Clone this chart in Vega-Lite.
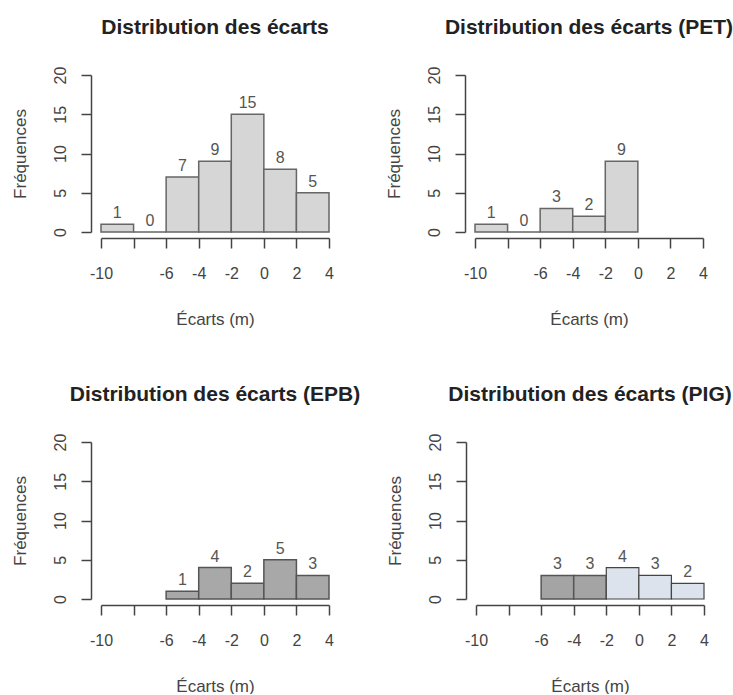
{
  "$schema": "https://vega.github.io/schema/vega-lite/v6.json",
  "padding": {"left": 11, "top": 17, "right": 0, "bottom": 0},
  "background": "white",
  "datasets": {
    "all": [
      {"lo": -10, "hi": -8, "mid": -9, "n": 1},
      {"lo": -8, "hi": -6, "mid": -7, "n": 0},
      {"lo": -6, "hi": -4, "mid": -5, "n": 7},
      {"lo": -4, "hi": -2, "mid": -3, "n": 9},
      {"lo": -2, "hi": 0, "mid": -1, "n": 15},
      {"lo": 0, "hi": 2, "mid": 1, "n": 8},
      {"lo": 2, "hi": 4, "mid": 3, "n": 5}
    ],
    "pet": [
      {"lo": -10, "hi": -8, "mid": -9, "n": 1},
      {"lo": -8, "hi": -6, "mid": -7, "n": 0},
      {"lo": -6, "hi": -4, "mid": -5, "n": 3},
      {"lo": -4, "hi": -2, "mid": -3, "n": 2},
      {"lo": -2, "hi": 0, "mid": -1, "n": 9}
    ],
    "epb": [
      {"lo": -6, "hi": -4, "mid": -5, "n": 1},
      {"lo": -4, "hi": -2, "mid": -3, "n": 4},
      {"lo": -2, "hi": 0, "mid": -1, "n": 2},
      {"lo": 0, "hi": 2, "mid": 1, "n": 5},
      {"lo": 2, "hi": 4, "mid": 3, "n": 3}
    ],
    "pig": [
      {"lo": -6, "hi": -4, "mid": -5, "n": 3},
      {"lo": -4, "hi": -2, "mid": -3, "n": 3},
      {"lo": -2, "hi": 0, "mid": -1, "n": 4},
      {"lo": 0, "hi": 2, "mid": 1, "n": 3},
      {"lo": 2, "hi": 4, "mid": 3, "n": 2}
    ]
  },
  "config": {
    "view": {"stroke": null},
    "font": "Liberation Sans",
    "title": {"fontSize": 21, "fontWeight": "bold", "color": "#222", "font": "Liberation Sans", "offset": 28, "frame": "group", "anchor": "middle"},
    "axis": {
      "grid": false,
      "domainColor": "#444", "tickColor": "#444", "domainWidth": 1.5, "tickWidth": 1.5,
      "labelColor": "#444", "titleColor": "#444",
      "labelFont": "Liberation Sans", "titleFont": "Liberation Sans",
      "labelFontSize": 16, "titleFontSize": 17, "titleFontWeight": "normal",
      "labelOverlap": false, "labelFlush": false
    },
    "axisX": {"offset": 6, "tickSize": 10, "labelPadding": 17, "titlePadding": 30},
    "axisY": {"offset": 10, "tickSize": 10, "labelAngle": -90, "labelAlign": "center", "labelBaseline": "bottom", "labelPadding": 13, "titlePadding": 23}
  },
  "vconcat": [
    {
      "hconcat": [
        {
          "width": 228, "height": 157,
          "title": "Distribution des écarts",
          "data": {"name": "all"},
          "layer": [
            {
              "mark": {"type": "bar", "fill": "#d6d6d6", "stroke": "#666", "strokeWidth": 1.5},
              "encoding": {
                "x": {"field": "lo", "type": "quantitative", "scale": {"domain": [-10, 4], "nice": false, "zero": false},
                  "axis": {"title": "Écarts (m)", "values": [-10, -8, -6, -4, -2, 0, 2, 4], "labelExpr": "datum.value == -8 ? '' : toString(datum.value)"}},
                "x2": {"field": "hi"},
                "y": {"field": "n", "type": "quantitative", "scale": {"domain": [0, 20], "nice": false},
                  "axis": {"title": "Fréquences", "values": [0, 5, 10, 15, 20]}},
                "y2": {"datum": 0}
              }
            },
            {
              "mark": {"type": "text", "dy": -11, "fontSize": 16, "color": "#555"},
              "encoding": {
                "x": {"field": "mid", "type": "quantitative",
                  "axis": {"title": "Écarts (m)", "values": [-10, -8, -6, -4, -2, 0, 2, 4], "labelExpr": "datum.value == -8 ? '' : toString(datum.value)"}},
                "y": {"field": "n", "type": "quantitative",
                  "axis": {"title": "Fréquences", "values": [0, 5, 10, 15, 20]}},
                "text": {"field": "n", "type": "quantitative"}
              }
            }
          ]
        },
        {
          "width": 228, "height": 157,
          "title": "Distribution des écarts (PET)",
          "data": {"name": "pet"},
          "layer": [
            {
              "mark": {"type": "bar", "fill": "#d6d6d6", "stroke": "#666", "strokeWidth": 1.5},
              "encoding": {
                "x": {"field": "lo", "type": "quantitative", "scale": {"domain": [-10, 4], "nice": false, "zero": false},
                  "axis": {"title": "Écarts (m)", "values": [-10, -8, -6, -4, -2, 0, 2, 4], "labelExpr": "datum.value == -8 ? '' : toString(datum.value)"}},
                "x2": {"field": "hi"},
                "y": {"field": "n", "type": "quantitative", "scale": {"domain": [0, 20], "nice": false},
                  "axis": {"title": "Fréquences", "values": [0, 5, 10, 15, 20]}},
                "y2": {"datum": 0}
              }
            },
            {
              "mark": {"type": "text", "dy": -11, "fontSize": 16, "color": "#555"},
              "encoding": {
                "x": {"field": "mid", "type": "quantitative",
                  "axis": {"title": "Écarts (m)", "values": [-10, -8, -6, -4, -2, 0, 2, 4], "labelExpr": "datum.value == -8 ? '' : toString(datum.value)"}},
                "y": {"field": "n", "type": "quantitative",
                  "axis": {"title": "Fréquences", "values": [0, 5, 10, 15, 20]}},
                "text": {"field": "n", "type": "quantitative"}
              }
            }
          ]
        }
      ],
      "spacing": 51
    },
    {
      "hconcat": [
        {
          "width": 228, "height": 157,
          "title": "Distribution des écarts (EPB)",
          "data": {"name": "epb"},
          "layer": [
            {
              "mark": {"type": "bar", "fill": "#a8a8a8", "stroke": "#555", "strokeWidth": 1.5},
              "encoding": {
                "x": {"field": "lo", "type": "quantitative", "scale": {"domain": [-10, 4], "nice": false, "zero": false},
                  "axis": {"title": "Écarts (m)", "values": [-10, -8, -6, -4, -2, 0, 2, 4], "labelExpr": "datum.value == -8 ? '' : toString(datum.value)"}},
                "x2": {"field": "hi"},
                "y": {"field": "n", "type": "quantitative", "scale": {"domain": [0, 20], "nice": false},
                  "axis": {"title": "Fréquences", "values": [0, 5, 10, 15, 20]}},
                "y2": {"datum": 0}
              }
            },
            {
              "mark": {"type": "text", "dy": -11, "fontSize": 16, "color": "#555"},
              "encoding": {
                "x": {"field": "mid", "type": "quantitative",
                  "axis": {"title": "Écarts (m)", "values": [-10, -8, -6, -4, -2, 0, 2, 4], "labelExpr": "datum.value == -8 ? '' : toString(datum.value)"}},
                "y": {"field": "n", "type": "quantitative",
                  "axis": {"title": "Fréquences", "values": [0, 5, 10, 15, 20]}},
                "text": {"field": "n", "type": "quantitative"}
              }
            }
          ]
        },
        {
          "width": 228, "height": 157,
          "title": "Distribution des écarts (PIG)",
          "data": {"name": "pig"},
          "layer": [
            {
              "transform": [{"filter": "datum.lo < -2"}],
              "mark": {"type": "bar", "fill": "#a4a4a4", "stroke": "#555", "strokeWidth": 1.5},
              "encoding": {
                "x": {"field": "lo", "type": "quantitative", "scale": {"domain": [-10, 4], "nice": false, "zero": false},
                  "axis": {"title": "Écarts (m)", "values": [-10, -8, -6, -4, -2, 0, 2, 4], "labelExpr": "datum.value == -8 ? '' : toString(datum.value)"}},
                "x2": {"field": "hi"},
                "y": {"field": "n", "type": "quantitative", "scale": {"domain": [0, 20], "nice": false},
                  "axis": {"title": "Fréquences", "values": [0, 5, 10, 15, 20]}},
                "y2": {"datum": 0}
              }
            },
            {
              "transform": [{"filter": "datum.lo >= -2"}],
              "mark": {"type": "bar", "fill": "#dde3ec", "stroke": "#444", "strokeWidth": 1.2},
              "encoding": {
                "x": {"field": "lo", "type": "quantitative",
                  "axis": {"title": "Écarts (m)", "values": [-10, -8, -6, -4, -2, 0, 2, 4], "labelExpr": "datum.value == -8 ? '' : toString(datum.value)"}},
                "x2": {"field": "hi"},
                "y": {"field": "n", "type": "quantitative",
                  "axis": {"title": "Fréquences", "values": [0, 5, 10, 15, 20]}},
                "y2": {"datum": 0}
              }
            },
            {
              "mark": {"type": "text", "dy": -11, "fontSize": 16, "color": "#555"},
              "encoding": {
                "x": {"field": "mid", "type": "quantitative",
                  "axis": {"title": "Écarts (m)", "values": [-10, -8, -6, -4, -2, 0, 2, 4], "labelExpr": "datum.value == -8 ? '' : toString(datum.value)"}},
                "y": {"field": "n", "type": "quantitative",
                  "axis": {"title": "Fréquences", "values": [0, 5, 10, 15, 20]}},
                "text": {"field": "n", "type": "quantitative"}
              }
            }
          ]
        }
      ],
      "spacing": 25
    }
  ],
  "spacing": 57
}
